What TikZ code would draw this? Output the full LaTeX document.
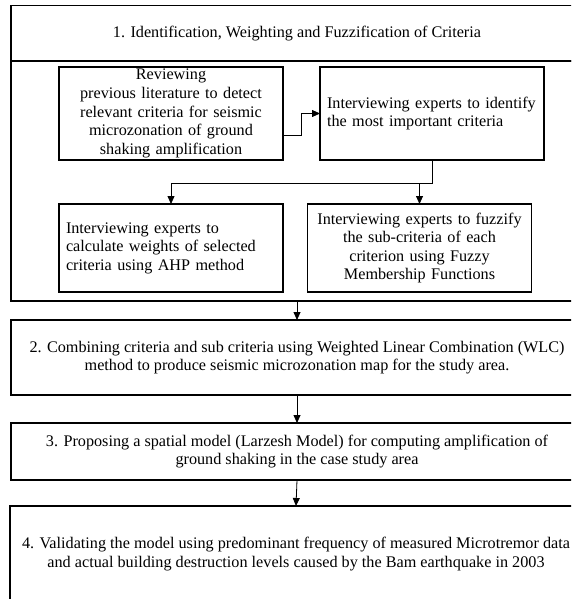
\documentclass[tikz,border=0pt]{standalone}
\usepackage{fontspec}
\setmainfont{Liberation Serif}
\usetikzlibrary{arrows.meta}

\begin{document}
\begin{tikzpicture}[
  x=1pt, y=-1pt,
  every node/.style={font=\fontsize{16.2}{18.6}\selectfont, inner sep=0pt, outer sep=0pt},
  stage/.style={draw, line width=1.1pt, minimum width=572pt, align=center},
  task/.style={draw, line width=1.1pt, text width=210pt, inner xsep=7pt},
  flow/.style={line width=0.8pt, -{Triangle[length=8pt,width=7pt]}},
]
\clip (0,0) rectangle (571,599);

\node[stage, minimum height=55.5pt] (head) at (297,33.25)
  {1. Identification, Weighting and Fuzzification of Criteria};
\node[stage, minimum height=240pt] (frame) at (297,181) {};

\node[task, align=center, minimum height=93pt] (review) at (171,113.5)
  {Reviewing\\ previous literature to detect\\ relevant criteria for seismic\\
   microzonation of ground\\ shaking amplification};
\node[task, align=left, minimum height=93pt] (identify) at (432,113.5)
  {Interviewing experts to identify\\ the most important criteria};
\node[task, align=left, minimum height=88pt] (weights) at (171,248)
  {Interviewing experts to\\ calculate weights of selected\\ criteria using AHP method};
\node[task, align=center, minimum height=88pt] (fuzzify) at (419.5,248)
  {Interviewing experts to fuzzify\\ the sub-criteria of each\\
   criterion using Fuzzy\\ Membership Functions};

\node[stage, minimum height=75pt] (combine) at (297,357.5)
  {2. Combining criteria and sub criteria using Weighted Linear Combination (WLC)\\
   method to produce seismic microzonation map for the study area.};
\node[stage, minimum height=57pt] (model) at (297,451.5)
  {3. Proposing a spatial model (Larzesh Model) for computing amplification of\\
   ground shaking in the case study area};
\node[stage, minimum height=96pt] (validate) at (296,554)
  {4. Validating the model using predominant frequency of measured Microtremor data\\
   and actual building destruction levels caused by the Bam earthquake in 2003};

\coordinate (bus) at (0,183);
\draw[flow] ([yshift=-21.5pt]review.east) -- ++(18.5,0) |- (identify.west);
\draw[line width=0.8pt] (identify.south) -- (identify.south |- bus) -- (weights.north |- bus);
\draw[flow] (weights.north |- bus) -- (weights.north);
\draw[flow] (fuzzify.north |- bus) -- (fuzzify.north);
\draw[flow] (frame.south) -- (combine.north);
\draw[flow] (combine.south) -- (model.north);
\draw[flow] (model.south) -- (validate.north);
\end{tikzpicture}
\end{document}
